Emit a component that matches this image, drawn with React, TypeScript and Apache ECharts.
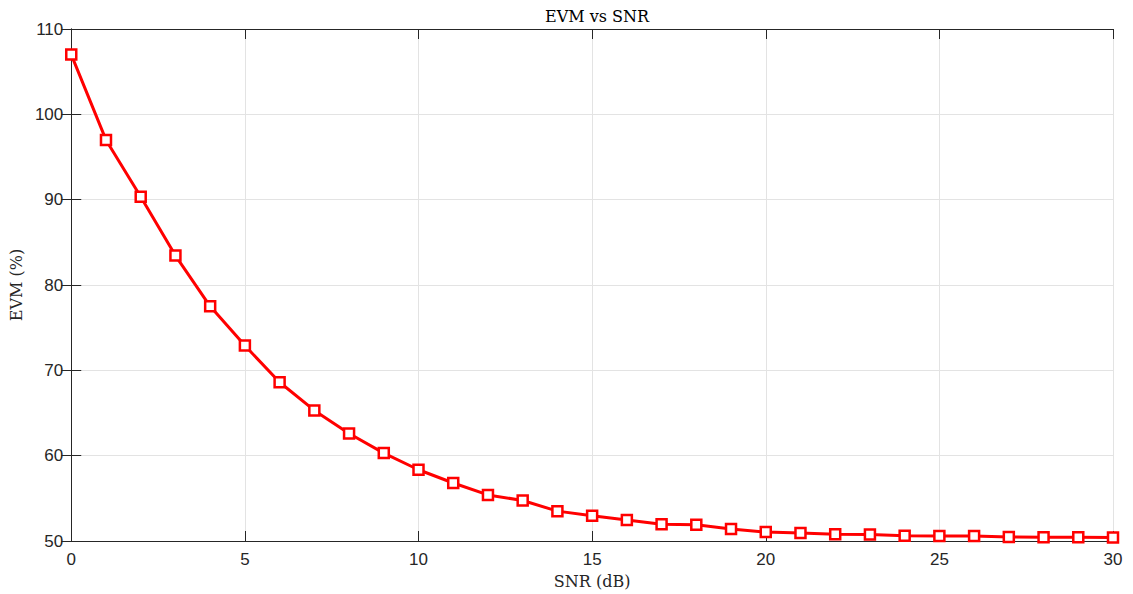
import React, { useEffect, useRef } from "react";
import * as echarts from "echarts";

const snr = [0,1,2,3,4,5,6,7,8,9,10,11,12,13,14,15,16,17,18,19,20,21,22,23,24,25,26,27,28,29,30];
const evm = [107.0,97.0,90.35,83.45,77.5,72.9,68.6,65.3,62.6,60.3,58.35,56.8,55.4,54.75,53.5,52.95,52.45,51.95,51.9,51.4,51.05,50.95,50.8,50.75,50.62,50.58,50.58,50.48,50.43,50.43,50.4];
const xTicks = { min: 0, max: 30, interval: 5 };
const yTicks = { min: 50, max: 110, interval: 10 };
const titleText = "EVM vs SNR";
const xName = "SNR (dB)";
const yName = "EVM (%)";

export default function App() {
  const ref = useRef<HTMLDivElement>(null);
  useEffect(() => {
    const chart = echarts.init(ref.current!, null, { renderer: "svg" });
    const axisLine = { show: true, lineStyle: { color: "#262626", width: 1 } };
    const tick = { show: true, inside: true, length: 10, lineStyle: { color: "#262626" } };
    const sansLabel = { color: "#262626", fontSize: 17, fontFamily: "Liberation Sans, Arial, sans-serif" };
    const serif = "DejaVu Serif, Liberation Serif, serif";
    chart.setOption({
      animation: false,
      backgroundColor: "#ffffff",
      title: {
        text: titleText,
        left: 592,
        textAlign: "center",
        top: 3,
        textStyle: { fontFamily: serif, fontWeight: "normal", fontSize: 16, color: "#000" },
      },
      grid: { left: 71, right: 20, top: 29, bottom: 52, containLabel: false },
      xAxis: [
        {
          type: "value", ...xTicks,
          axisLine, axisTick: tick,
          axisLabel: { ...sansLabel, margin: 10 },
          splitLine: { show: true, lineStyle: { color: "#e3e3e3" } },
          name: xName, nameLocation: "middle", nameGap: 32,
          nameTextStyle: { fontFamily: serif, fontSize: 16, color: "#262626" },
        },
        {
          type: "value", position: "top", ...xTicks,
          axisLine, axisTick: tick, axisLabel: { show: false }, splitLine: { show: false },
        },
      ],
      yAxis: [
        {
          type: "value", ...yTicks,
          axisLine, axisTick: tick,
          axisLabel: { ...sansLabel, margin: 8 },
          splitLine: { show: true, lineStyle: { color: "#e3e3e3" } },
          name: yName, nameLocation: "middle", nameGap: 46,
          nameTextStyle: { fontFamily: serif, fontSize: 16, color: "#262626" },
        },
        {
          type: "value", position: "right", ...yTicks,
          axisLine, axisTick: tick, axisLabel: { show: false }, splitLine: { show: false },
        },
      ],
      series: [
        {
          type: "line",
          data: snr.map((x, i) => [x, evm[i]]),
          symbol: "rect",
          symbolSize: 10,
          showAllSymbol: true,
          lineStyle: { color: "#ff0000", width: 3 },
          itemStyle: { color: "#ffffff", borderColor: "#ff0000", borderWidth: 2.5 },
          z: 5,
        },
      ],
    });
    return () => chart.dispose();
  }, []);
  return <div ref={ref} style={{ width: 1133, height: 594, position: "absolute", left: 0, top: 0 }} />;
}
